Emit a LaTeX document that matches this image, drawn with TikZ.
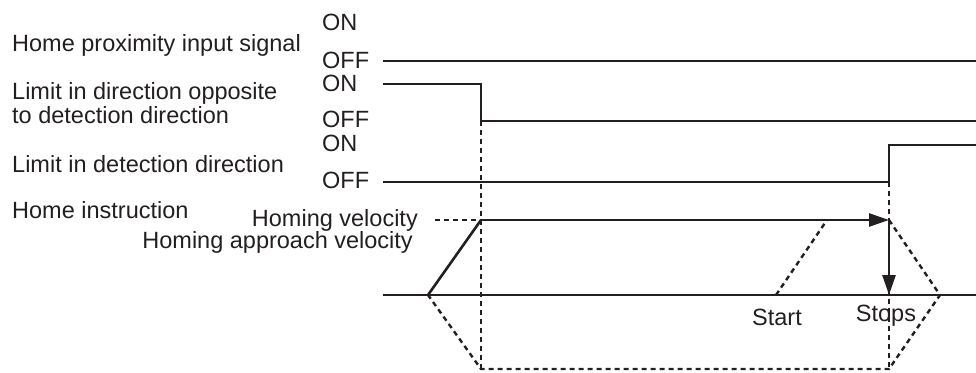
\documentclass[tikz,border=0pt]{standalone}
\usepackage{xcolor}
\usepackage{fontspec}
\setmainfont{Liberation Sans}
\usetikzlibrary{arrows.meta}
\definecolor{ink}{HTML}{231F20}

\begin{document}
\begin{tikzpicture}[x=1pt, y=-1pt,
    txt/.style={inner sep=0pt, text=ink, font=\fontsize{23.5}{27}\selectfont},
    sig/.style={draw=ink, line width=1.6pt},
    vel/.style={draw=ink, line width=2.6pt},
    guide/.style={draw=ink, line width=1.1pt, dash pattern=on 5pt off 4pt},
    ghost/.style={draw=ink, line width=2.4pt, dash pattern=on 5pt off 4pt},
    tip/.style={-{Triangle[length=20pt, width=13pt]}}]
    \useasboundingbox (0,0) rectangle (976,372);

    % signal names
    \node[txt, anchor=base west] (hpname) at (12,51.5) {Home proximity input signal};
    \node[txt, anchor=base west] (opname) at (12,99) {Limit in direction opposite};
    \node[txt, anchor=base west] (opname2) at (12,123) {to detection direction};
    \node[txt, anchor=base west] (dtname) at (12,172) {Limit in detection direction};
    \node[txt, anchor=base west] (hiname) at (12,218) {Home instruction};

    % levels
    \node[txt, anchor=base west] (hpon) at (322,30.5) {ON};
    \node[txt, anchor=base west] (hpoff) at (322,68) {OFF};
    \node[txt, anchor=base west] (opon) at (322,91) {ON};
    \node[txt, anchor=base west] (opoff) at (322,127) {OFF};
    \node[txt, anchor=base west] (dton) at (322,151) {ON};
    \node[txt, anchor=base west] (dtoff) at (322,188) {OFF};

    \node[txt, anchor=base east] (hv) at (418,226) {Homing velocity};
    \node[txt, anchor=base east] (hav) at (413,248) {Homing approach velocity};
    \node[txt, anchor=base] (start) at (777,325) {Start};
    \node[txt, anchor=base] (stops) at (886,321) {Stops};

    % points
    \coordinate (hp0) at (383,61);  \coordinate (hp1) at (976,61);
    \coordinate (op0) at (383,84);  \coordinate (op1) at (481,84);
    \coordinate (op2) at (481,121); \coordinate (op3) at (976,121);
    \coordinate (dt0) at (383,182); \coordinate (dt1) at (889,182);
    \coordinate (dt2) at (889,145); \coordinate (dt3) at (976,145);
    \coordinate (ax0) at (383,295); \coordinate (ax1) at (976,295);
    \coordinate (r0) at (428,295);  \coordinate (r1) at (481,220);
    \coordinate (r2) at (889,220);  \coordinate (s0) at (889,295);
    \coordinate (st0) at (776,295); \coordinate (st1) at (827,220);
    \coordinate (g0) at (481,369);  \coordinate (g1) at (940,295);
    \coordinate (g2) at (889,369);  \coordinate (hvl) at (435,220);

    % signals
    \draw[sig] (hp0) -- (hp1);
    \draw[sig] (op0) -- (op1) -- (op2) -- (op3);
    \draw[sig] (dt0) -- (dt1) -- (dt2) -- (dt3);
    \draw[sig] (ax0) -- (ax1);

    % guides
    \draw[guide] (op2) -- (g0);
    \draw[guide] (dt1) -- (g2);
    \draw[guide] (hvl) -- (r1);

    % velocity
    \draw[vel, line join=miter] (r0) -- (r1);
    \draw[vel, tip] (r1) -- (r2);
    \draw[vel, tip] (r2) -- (s0);
    \draw[ghost] (st0) -- (st1);
    \draw[ghost] (r2) -- (g1) -- (g2) -- (g0) -- (r0);
\end{tikzpicture}
\end{document}
